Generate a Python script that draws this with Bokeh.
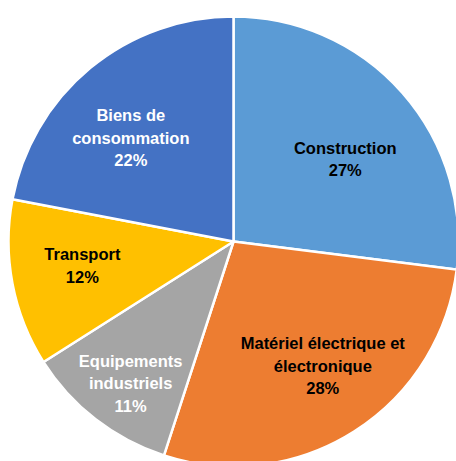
import math
from bokeh.plotting import figure
from bokeh.models import ColumnDataSource, Range1d
from bokeh.core.properties import value
from bokeh.embed import file_html
from bokeh.resources import INLINE

# ---- data ----
categories = ["Construction", "Matériel électrique et\nélectronique", "Equipements\nindustriels",
              "Transport", "Biens de\nconsommation"]
shares = [27, 28, 11, 12, 22]

# ---- styles / layout ----
colors = ["#5B9BD5", "#ED7D31", "#A5A5A5", "#FFC000", "#4472C4"]
label_colors = ["black", "black", "white", "black", "white"]
label_r = [139, 153, 175, 153, 146]          # px from centre
label_dang = [4.9, -3.3, -1.8, 1.8, -5.1]     # deg nudges (clockwise from top)

W, H = 456, 461
cx, cy_top, R = 233, 241, 225
cy = H - cy_top

total = sum(shares)
starts, ends, lx, ly, texts = [], [], [], [], []
cum = 0.0
for i, s in enumerate(shares):
    a0 = cum / total * 360.0
    cum += s
    a1 = cum / total * 360.0
    # clockwise-from-top -> math angle
    starts.append(math.radians(90 - a1))
    ends.append(math.radians(90 - a0))
    mid = (a0 + a1) / 2 + label_dang[i]
    lx.append(cx + label_r[i] * math.sin(math.radians(mid)))
    ly.append(cy + label_r[i] * math.cos(math.radians(mid)))
    texts.append(f"{categories[i]}\n{s}%")

src = ColumnDataSource(dict(start=starts, end=ends, color=colors,
                            lx=lx, ly=ly, text=texts, tcolor=label_colors))

p = figure(width=W, height=H, output_backend="svg", toolbar_location=None,
           x_range=Range1d(0, W), y_range=Range1d(0, H), min_border=0)
p.axis.visible = False
p.grid.visible = False
p.outline_line_color = None
p.background_fill_color = "white"

p.wedge(x=cx, y=cy, radius=R, start_angle="start", end_angle="end", source=src,
        fill_color="color", line_color="white", line_width=2.5)

p.text(x="lx", y="ly", text="text", source=src, text_color="tcolor",
       text_font=value("Liberation Sans"), text_font_style="bold",
       text_font_size="16.5px", text_align="center", text_baseline="middle",
       text_line_height=1.25)

open("out.html", "w").write(file_html(p, INLINE))
